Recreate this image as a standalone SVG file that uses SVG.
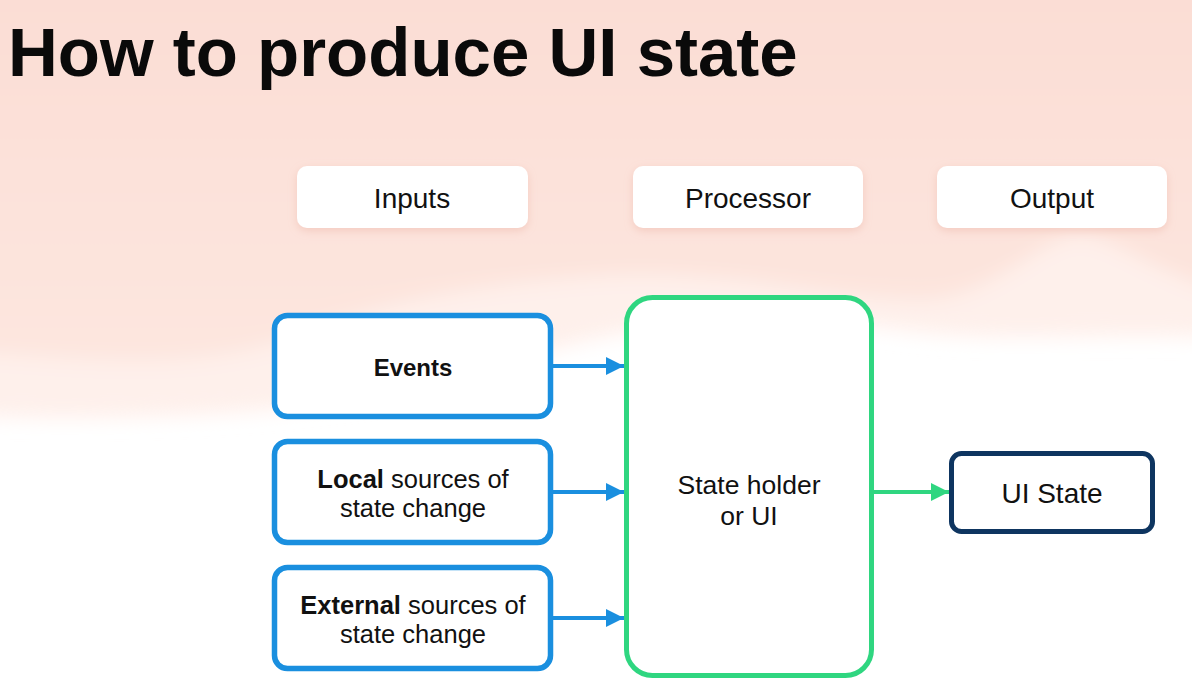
<svg xmlns="http://www.w3.org/2000/svg" width="1192" height="697" viewBox="0 0 1192 697">
<defs>
<linearGradient id="bgA" x1="0" y1="0" x2="0" y2="1"><stop offset="0" stop-color="#fbdcd3"/><stop offset="1" stop-color="#fde6df"/></linearGradient>
<filter id="sh" x="-20%" y="-30%" width="140%" height="170%"><feDropShadow dx="0" dy="3" stdDeviation="4" flood-color="#e8a89a" flood-opacity="0.4"/></filter>
<filter id="blur" x="-20%" y="-20%" width="140%" height="140%"><feGaussianBlur stdDeviation="10"/></filter>
<marker id="ab" viewBox="0 0 10 10" refX="10" refY="5" markerWidth="18" markerHeight="18" orient="auto" markerUnits="userSpaceOnUse" preserveAspectRatio="none"><path d="M0,0 L10,5 L0,10 Z" fill="#1a8fdf"/></marker>
<marker id="ag" viewBox="0 0 10 10" refX="10" refY="5" markerWidth="18" markerHeight="18" orient="auto" markerUnits="userSpaceOnUse" preserveAspectRatio="none"><path d="M0,0 L10,5 L0,10 Z" fill="#2fd680"/></marker>
<style>
.hdr{fill:#fff;filter:url(#sh)}
.in{fill:#fff;stroke:#1a8fdf;stroke-width:5.5}
.t{font-family:"Liberation Sans",Arial,sans-serif;fill:#111;text-anchor:middle}
.b{font-weight:bold}
.cb{stroke:#1a8fdf;stroke-width:4;fill:none;marker-end:url(#ab)}
.cg{stroke:#2fd680;stroke-width:4;fill:none;marker-end:url(#ag)}
</style>
</defs>
<rect width="1192" height="697" fill="#ffffff"/>
<g filter="url(#blur)">
<path d="M-60,-60 H1260 V340 C1100,330 1000,345 900,330 C760,310 640,320 520,360 C380,410 180,425 -60,415 Z" fill="#fef0eb"/>
<path d="M-60,-60 H1260 V305 C1150,275 1110,232 1075,236 C1035,242 990,300 920,300 C820,298 720,268 600,276 C480,284 390,300 300,335 C200,372 100,362 -60,350 Z" fill="url(#bgA)"/>
</g>
<text x="8" y="76" font-family="'Liberation Sans',Arial,sans-serif" font-weight="bold" font-size="69" fill="#0a0a0a">How to produce UI state</text>
<g id="hdr-inputs"><rect class="hdr" x="297" y="166" width="231" height="62" rx="10"/><text class="t" x="412" y="208" font-size="28">Inputs</text></g>
<g id="hdr-processor"><rect class="hdr" x="633" y="166" width="230" height="62" rx="10"/><text class="t" x="748" y="208" font-size="28">Processor</text></g>
<g id="hdr-output"><rect class="hdr" x="937" y="166" width="230" height="62" rx="10"/><text class="t" x="1052" y="208" font-size="28">Output</text></g>
<g id="events"><rect class="in" x="274.5" y="315.5" width="276" height="101" rx="13"/><text class="t b" x="413" y="376" font-size="24">Events</text></g>
<g id="local"><rect class="in" x="274.5" y="441.5" width="276" height="101" rx="13"/><text class="t" x="413" y="488" font-size="25.5"><tspan class="b">Local</tspan> sources of</text><text class="t" x="413" y="517" font-size="25.5">state change</text></g>
<g id="external"><rect class="in" x="274.5" y="567.5" width="276" height="101" rx="13"/><text class="t" x="413" y="614" font-size="25.5"><tspan class="b">External</tspan> sources of</text><text class="t" x="413" y="643" font-size="25.5">state change</text></g>
<g id="processor"><rect x="626.5" y="297.5" width="245" height="378" rx="26" fill="#fff" stroke="#2fd680" stroke-width="5"/><text class="t" x="749" y="494" font-size="26.5">State holder</text><text class="t" x="749" y="525" font-size="26.5">or UI</text></g>
<g id="uistate"><rect x="951.5" y="453.5" width="201" height="78" rx="10" fill="#fff" stroke="#0e3560" stroke-width="5"/><text class="t" x="1052" y="503" font-size="28">UI State</text></g>
<g id="connectors">
<line class="cb" x1="553" y1="366" x2="624" y2="366"/>
<line class="cb" x1="553" y1="492" x2="624" y2="492"/>
<line class="cb" x1="553" y1="618" x2="624" y2="618"/>
<line class="cg" x1="874" y1="492" x2="949" y2="492"/>
</g>
</svg>
